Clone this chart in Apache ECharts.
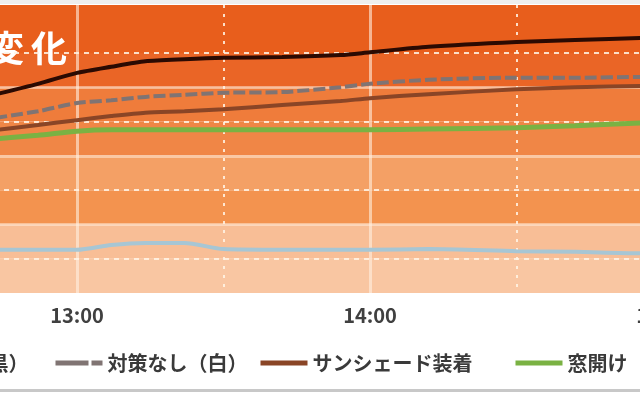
<!DOCTYPE html>
<html>
<head>
<meta charset="utf-8">
<script src="https://cdn.jsdelivr.net/npm/echarts@6/dist/echarts.min.js"></script>
<style>
html,body{margin:0;padding:0;background:#ffffff;}
#chart{width:640px;height:400px;}
</style>
</head>
<body>
<div id="chart"></div>
<script>
// minutes relative to 13:00
const times = [-20, -8, 0, 7, 14, 22, 30, 42, 54, 60, 72, 90, 102, 116, 125];
const blackCar   = [48.4, 50.5, 52.1, 53.0, 53.8, 54.1, 54.3, 54.4, 54.7, 55.1, 55.9, 56.6, 56.9, 57.2, 57.3];
const whiteCar   = [45.2, 46.5, 47.7, 48.1, 48.6, 48.9, 49.2, 49.3, 50.0, 50.5, 51.1, 51.4, 51.4, 51.5, 51.5];
const sunshade   = [43.5, 44.5, 45.2, 45.8, 46.3, 46.5, 46.8, 47.4, 48.0, 48.4, 49.0, 49.7, 50.0, 50.2, 50.3];
const windowOpen = [42.3, 43.0, 43.6, 43.8, 43.8, 43.8, 43.8, 43.8, 43.8, 43.8, 43.9, 44.1, 44.4, 44.8, 44.9];
const blueLine   = [26.3, 26.3, 26.3, 27.0, 27.3, 27.3, 26.4, 26.3, 26.3, 26.3, 26.4, 26.1, 26.0, 25.8, 25.8];

const seriesNames = ['対策なし（黒）', '対策なし（白）', 'サンシェード装着', '窓開け（3cm）'];
const titleChars = ['変', '化'];
const solidGrid = [30, 40, 50];
const dashedGrid = [25, 35, 45, 55];
const bandColors = ['#F9C6A2', '#F8BE96', '#F3934F', '#F4A065', '#F08646', '#EF7C3B', '#EA6526', '#E85E1C', '#E85E1C'];

function pairs(vals) { return times.map((t, i) => [t, vals[i]]); }
function hhmm(m) {
  const t = 13 * 60 + m;
  const h = Math.floor(t / 60), mm = ((t % 60) + 60) % 60;
  return h + ':' + (mm < 10 ? '0' : '') + mm;
}

const FONT = '"Noto Sans CJK JP", "Noto Sans", sans-serif';
const chart = echarts.init(document.getElementById('chart'), null, {renderer: 'canvas'});

const legendBase = {
  top: 353, itemWidth: 47, itemHeight: 20, itemGap: 0, padding: 0,
  selectedMode: false,
  itemStyle: {opacity: 0, borderWidth: 0},
  lineStyle: {width: 5},
  textStyle: {fontSize: 20, color: '#3a3a3a', fontFamily: FONT, fontWeight: 'bold'}
};
const legendLefts = [-166, 53, 258, 513];

const legends = legendLefts.map((l, i) => Object.assign({}, legendBase, {left: l, data: [seriesNames[i]]}));
legends[1].lineStyle = {width: 5, type: [33, 3, 11, 60]};

const option = {
  animation: false,
  backgroundColor: '#ffffff',
  grid: {left: -216, top: 5, width: 1172, height: 288, containLabel: false, outerBoundsMode: 'none'},
  xAxis: {
    type: 'value', min: -60, max: 180, interval: 60,
    axisLine: {show: false}, axisTick: {show: false},
    axisLabel: {formatter: v => hhmm(v), fontSize: 20, fontWeight: 'bold', color: '#404040', fontFamily: FONT, margin: 12},
    splitLine: {show: true, lineStyle: {color: 'rgba(255,240,225,0.6)', width: 3, type: 'solid'}},
    minorTick: {show: false, splitNumber: 2},
    minorSplitLine: {show: true, lineStyle: {color: 'rgba(255,245,230,0.85)', width: 2, type: [3, 6]}}
  },
  yAxis: [
    {
      type: 'value', min: 20, max: 62, interval: 5, z: -1,
      axisLine: {show: false}, axisTick: {show: false}, axisLabel: {show: false},
      splitLine: {show: false},
      splitArea: {show: true, areaStyle: {color: bandColors}}
    },
    {
      type: 'value', min: 20, max: 62, interval: 10,
      axisLine: {show: false}, axisTick: {show: false}, axisLabel: {show: false},
      splitLine: {show: false}
    }
  ],
  legend: legends,
  graphic: [
    {type: 'text', left: -12, top: 30, style: {text: titleChars[0], fill: '#ffffff', font: 'bold 36px ' + FONT}},
    {type: 'text', left: 31, top: 30, style: {text: titleChars[1], fill: '#ffffff', font: 'bold 36px ' + FONT}},
    {type: 'rect', left: 0, top: 0, shape: {width: 640, height: 4}, style: {fill: '#eeeeee'}},
    {type: 'rect', left: 0, top: 389, shape: {width: 640, height: 3}, style: {fill: '#c8c8c8'}}
  ],
  series: [
    {
      name: 'blue', type: 'line', yAxisIndex: 1, data: pairs(blueLine), symbol: 'none', smooth: 0.25,
      lineStyle: {color: '#a7c6d4', width: 4},
      markLine: {
        silent: true, symbol: 'none', z: 1, label: {show: false},
        data: solidGrid.map(v => ({yAxis: v, lineStyle: {color: 'rgba(255,240,225,0.5)', width: 3, type: 'solid'}}))
          .concat(dashedGrid.map(v => ({yAxis: v, lineStyle: {color: 'rgba(255,245,230,0.85)', width: 2, type: [5, 5]}})))
      }
    },
    {name: seriesNames[3], type: 'line', yAxisIndex: 1, data: pairs(windowOpen), symbol: 'none', smooth: 0.25,
     itemStyle: {color: '#7ab243'}, lineStyle: {color: '#7ab243', width: 5}},
    {name: seriesNames[2], type: 'line', yAxisIndex: 1, data: pairs(sunshade), symbol: 'none', smooth: 0.25,
     itemStyle: {color: '#8a4526'}, lineStyle: {color: '#8a4526', width: 4}},
    {name: seriesNames[1], type: 'line', yAxisIndex: 1, data: pairs(whiteCar), symbol: 'none', smooth: 0.25,
     itemStyle: {color: '#807473'}, lineStyle: {color: '#807473', width: 4, type: [12, 4]}},
    {name: seriesNames[0], type: 'line', yAxisIndex: 1, data: pairs(blackCar), symbol: 'none', smooth: 0.25,
     itemStyle: {color: '#2b0a02'}, lineStyle: {color: '#2b0a02', width: 4}}
  ]
};
chart.setOption(option);
</script>
</body>
</html>
